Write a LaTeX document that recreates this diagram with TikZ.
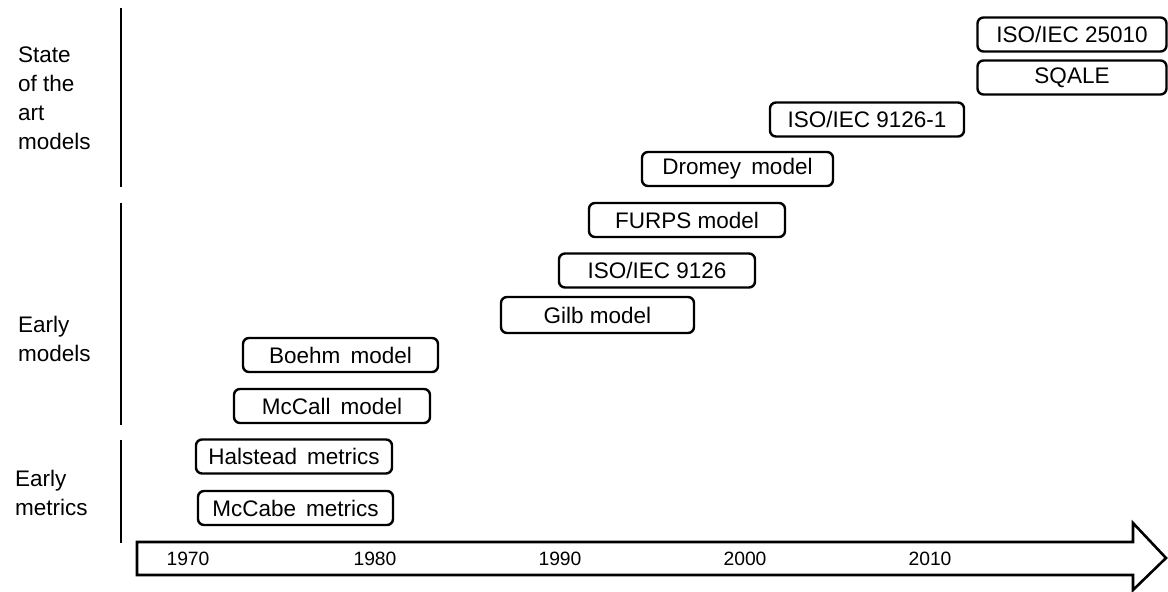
\documentclass[tikz,border=0pt]{standalone}
\usepackage{fontspec}
\setmainfont{Liberation Sans}
\newcommand{\wgap}{\ \hspace{0.17em}}
\begin{document}
\begin{tikzpicture}[x=1pt,y=-1pt,
  era/.style={draw, line width=2.4pt, rounded corners=6pt, minimum height=34pt,
    inner sep=0pt, font=\fontsize{22.5}{27}\selectfont},
  group/.style={anchor=west, align=left, inner sep=0pt,
    font=\fontsize{22.5}{29}\selectfont},
  year/.style={inner sep=0pt, font=\fontsize{19.3}{23}\selectfont},
  divider/.style={line width=2.6pt}]
\useasboundingbox (0,0) rectangle (1168,592);

% group dividers and their labels
\coordinate (d1a) at (121,8);   \coordinate (d1b) at (121,187);
\coordinate (d2a) at (121,203); \coordinate (d2b) at (121,425);
\coordinate (d3a) at (121,440); \coordinate (d3b) at (121,543);
\draw[divider] (d1a) -- (d1b);
\draw[divider] (d2a) -- (d2b);
\draw[divider] (d3a) -- (d3b);
\node[group] (gart) at (18,98.5) {State\\of the\\art\\models};
\node[group] (gmodels) at (18,339) {Early\\models};
\node[group] (gmetrics) at (15,492.5) {Early\\metrics};

% time axis
\draw[line width=2.6pt, line join=miter]
  (137,542) -- (1133,542) -- (1133,523) -- (1166,558) -- (1133,590)
  -- (1133,575) -- (137,575) -- cycle;
\node[year] (y1970) at (188,559) {1970};
\node[year] (y1980) at (375,559) {1980};
\node[year] (y1990) at (560,559) {1990};
\node[year] (y2000) at (745,559) {2000};
\node[year] (y2010) at (930,559) {2010};

% models and metrics along the timeline
\node[era, minimum width=195pt] (mccabe)   at (295.5,508)  {McCabe\wgap metrics};
\node[era, minimum width=196pt] (halstead) at (294,456.5)  {Halstead\wgap metrics};
\node[era, minimum width=196pt] (mccall)   at (332,406)    {McCall\wgap model};
\node[era, minimum width=195pt] (boehm)    at (340.5,355)  {Boehm\wgap model};
\node[era, minimum width=193pt, minimum height=36pt] (gilb) at (597.5,315) {Gilb model};
\node[era, minimum width=196pt] (iso9126)  at (657,270.5)  {ISO/IEC 9126};
\node[era, minimum width=196pt] (furps)    at (687,220)    {FURPS model};
\node[era, minimum width=191pt] (dromey)   at (737.5,169)  {Dromey\wgap model};
\node[era, minimum width=194pt] (iso91261) at (867,119.5)  {ISO/IEC 9126-1};
\node[era, minimum width=189pt] (sqale)    at (1072,77.5)  {SQALE};
\node[era, minimum width=189pt] (iso25010) at (1072,34.5)  {ISO/IEC 25010};
\end{tikzpicture}
\end{document}
